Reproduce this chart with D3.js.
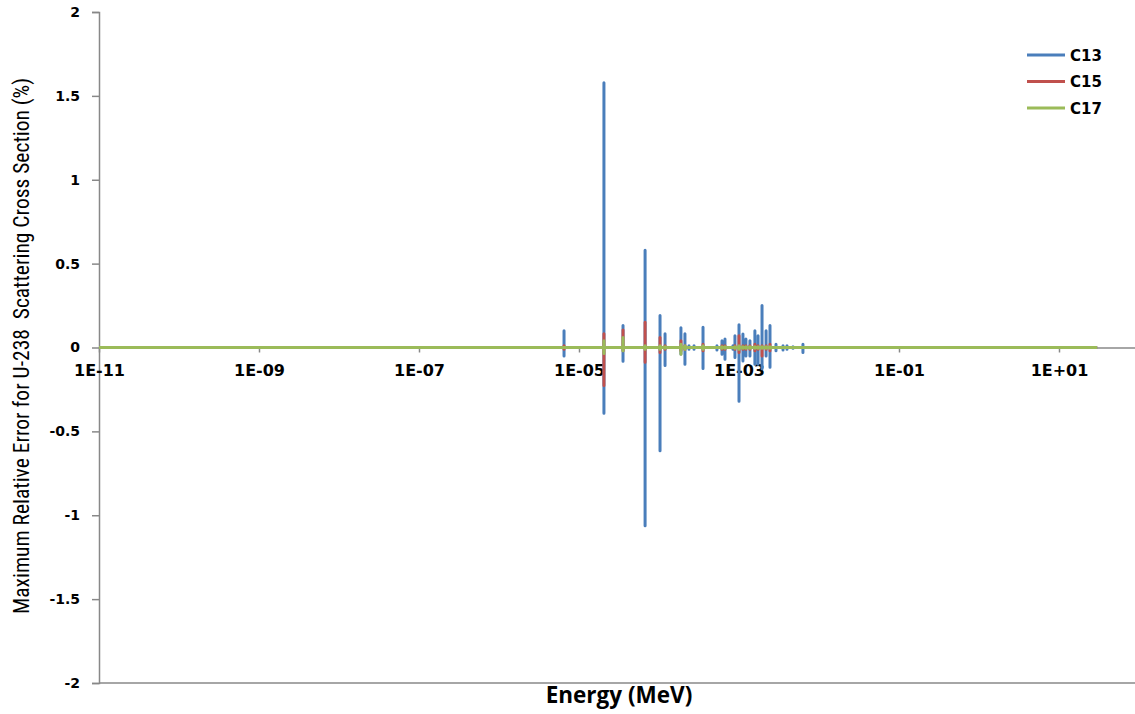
<!DOCTYPE html>
<html>
<head>
<meta charset="utf-8">
<script src="https://cdn.jsdelivr.net/npm/d3@7/dist/d3.min.js"></script>
<style>
  body { margin: 0; background: #fff; }
  svg { display: block; }
</style>
</head>
<body>
<div id="chart"></div>
<script>
// energies (MeV) where the resonance spikes show up
const spikeEnergies = [6.5e-6, 2.05e-5, 3.55e-5, 6.7e-5, 1.03e-4, 1.19e-4, 1.88e-4, 2.11e-4, 2.37e-4, 2.74e-4,
                       3.55e-4, 5.3e-4, 6.13e-4, 6.68e-4, 8.4e-4, 8.9e-4, 1.0e-3, 1.12e-3, 1.22e-3, 1.37e-3,
                       1.58e-3, 1.73e-3, 1.94e-3, 2.18e-3, 2.44e-3, 2.9e-3, 3.55e-3, 3.98e-3, 4.73e-3, 6.3e-3];

// max / min relative error (%) at each spike
const c13Max = [0.10, 1.578, 0.131, 0.579, 0.191, 0.082, 0.117, 0.082, 0.01, 0.01,
                0.12, 0.01, 0.04, 0.05, 0.01, 0.07, 0.135, 0.08, 0.05, 0.04,
                0.10, 0.07, 0.25, 0.10, 0.131, 0.02, 0.01, 0.01, 0.005, 0.02];
const c13Min = [-0.05, -0.392, -0.082, -1.063, -0.615, -0.107, -0.038, -0.10, -0.01, -0.01,
                -0.125, -0.015, -0.04, -0.07, -0.01, -0.06, -0.32, -0.08, -0.05, -0.05,
                -0.10, -0.10, -0.127, -0.05, -0.117, -0.02, -0.015, -0.01, -0.005, -0.03];

const c15Max = [0.01, 0.082, 0.105, 0.151, 0.06, 0.01, 0.04, 0.01, 0, 0,
                0.02, 0, 0.01, 0.01, 0, 0.01, 0.07, 0.01, 0.01, 0.01,
                0.02, 0.01, 0.01, 0.01, 0.02, 0, 0, 0, 0, 0];
const c15Min = [-0.01, -0.227, -0.02, -0.088, -0.03, -0.01, -0.02, -0.01, 0, 0,
                -0.02, 0, -0.01, -0.01, 0, -0.01, -0.03, -0.01, -0.01, -0.01,
                -0.02, -0.01, -0.05, -0.01, -0.02, 0, 0, 0, 0, 0];

const c17Max = [0, 0.04, 0.06, 0.01, 0.01, 0.005, 0.02, 0.01, 0, 0,
                0.01, 0, 0.005, 0.005, 0, 0.005, 0.01, 0.005, 0.005, 0.005,
                0.005, 0.005, 0.005, 0.005, 0.005, 0, 0, 0, 0, 0];
const c17Min = [0, -0.036, -0.02, -0.01, -0.01, -0.005, -0.04, -0.01, 0, 0,
                -0.01, 0, -0.005, -0.005, 0, -0.005, -0.01, -0.005, -0.005, -0.005,
                -0.005, -0.005, -0.005, -0.005, -0.005, 0, 0, 0, 0, 0];

const energyStart = 1e-11;
const energyEnd = 3e1;

const seriesNames = ["C13", "C15", "C17"];
const seriesColors = ["#4a7ebb", "#c0504d", "#9bbb59"];

const xTickValues = [1e-11, 1e-9, 1e-7, 1e-5, 1e-3, 1e-1, 1e1];
const xTickLabels = ["1E-11", "1E-09", "1E-07", "1E-05", "1E-03", "1E-01", "1E+01"];
const yTickValues = [-2, -1.5, -1, -0.5, 0, 0.5, 1, 1.5, 2];

const svgWidth = 1135;
const svgHeight = 714;

const svg = d3.select("#chart")
    .append("svg")
    .attr("width", svgWidth)
    .attr("height", svgHeight);

const xScale = d3.scaleLog()
    .domain([1e-11, 1e2])
    .range([99, 1139]);

const yScale = d3.scaleLinear()
    .domain([-2, 2])
    .range([683, 12]);

const axisColor = "#888";
const tickFont = "DejaVu Sans, Verdana, sans-serif";

// left axis
const yAxis = svg.append("g")
    .attr("transform", "translate(99,0)")
    .call(d3.axisLeft(yScale).tickValues(yTickValues).tickSize(7).tickPadding(12)
        .tickFormat(d => String(d)));
yAxis.select(".domain").attr("stroke", axisColor).attr("stroke-width", 1.5);
yAxis.selectAll(".tick line").attr("stroke", axisColor).attr("stroke-width", 1.5);
yAxis.selectAll(".tick text")
    .attr("font-family", tickFont).attr("font-weight", "bold").attr("font-size", 14).attr("fill", "#000");

// bottom border line
svg.append("line")
    .attr("x1", 99).attr("x2", svgWidth)
    .attr("y1", yScale(-2)).attr("y2", yScale(-2))
    .attr("stroke", axisColor).attr("stroke-width", 1.5);

// horizontal axis crossing at 0
const xAxis = svg.append("g")
    .attr("transform", `translate(0,${yScale(0)})`)
    .call(d3.axisBottom(xScale).tickValues(xTickValues).tickSize(5).tickPadding(12)
        .tickSizeOuter(0)
        .tickFormat((d, i) => xTickLabels[i]));
xAxis.select(".domain").attr("stroke", axisColor).attr("stroke-width", 1.5);
xAxis.selectAll(".tick line").attr("stroke", axisColor).attr("stroke-width", 1.5);
xAxis.selectAll(".tick text")
    .attr("font-family", tickFont).attr("font-weight", "bold").attr("font-size", 16).attr("fill", "#000");

// build each series path: flat at zero with vertical spikes
function seriesPoints(maxVals, minVals) {
    const pts = [[energyStart, 0]];
    spikeEnergies.forEach((e, i) => {
        if (maxVals[i] === 0 && minVals[i] === 0) return;
        pts.push([e, 0], [e, maxVals[i]], [e, minVals[i]], [e, 0]);
    });
    pts.push([energyEnd, 0]);
    return pts;
}

const line = d3.line()
    .x(d => xScale(d[0]))
    .y(d => yScale(d[1]));

const seriesData = [
    seriesPoints(c13Max, c13Min),
    seriesPoints(c15Max, c15Min),
    seriesPoints(c17Max, c17Min)
];

svg.selectAll(".series")
    .data(seriesData)
    .enter().append("path")
    .attr("class", "series")
    .attr("d", line)
    .attr("fill", "none")
    .attr("stroke", (d, i) => seriesColors[i])
    .attr("stroke-width", 3)
    .attr("stroke-linejoin", "round");

// legend
const legend = svg.append("g").attr("transform", "translate(1027,55)");
seriesNames.forEach((name, i) => {
    const g = legend.append("g").attr("transform", `translate(0,${i * 26.5})`);
    g.append("line")
        .attr("x1", 0).attr("x2", 38).attr("y1", 0).attr("y2", 0)
        .attr("stroke", seriesColors[i]).attr("stroke-width", 3);
    g.append("text")
        .attr("x", 43).attr("y", 5.5)
        .attr("font-family", tickFont).attr("font-weight", "bold").attr("font-size", 15)
        .attr("fill", "#000")
        .text(name);
});

// axis titles
svg.append("text")
    .attr("x", 619).attr("y", 703)
    .attr("text-anchor", "middle")
    .attr("font-family", "Open Sans, sans-serif").attr("font-weight", "bold").attr("font-size", 22.5)
    .attr("fill", "#000")
    .text("Energy (MeV)");

svg.append("text")
    .attr("transform", "translate(29,346) rotate(-90)")
    .attr("text-anchor", "middle")
    .attr("font-family", "Liberation Sans Narrow, Roboto Condensed, sans-serif").attr("font-size", 21.5)
    .attr("fill", "#000")
    .attr("xml:space", "preserve")
    .text("Maximum Relative Error for U-238  Scattering Cross Section (%)");
</script>
</body>
</html>
